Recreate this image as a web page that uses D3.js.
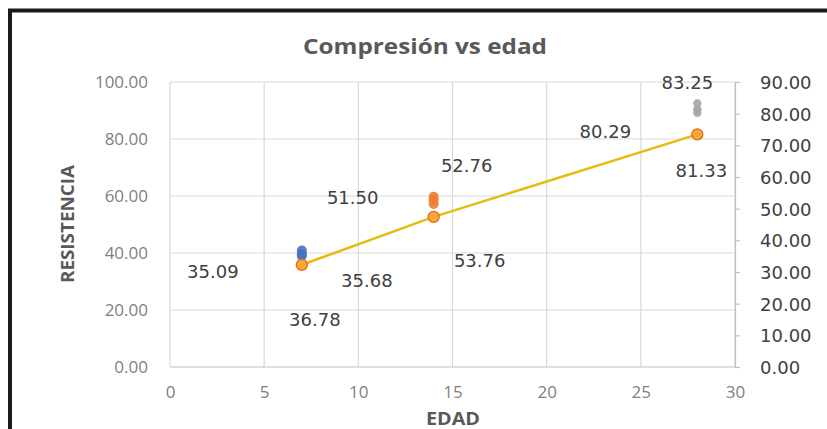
<!DOCTYPE html>
<html>
<head>
<meta charset="utf-8">
<script src="https://cdn.jsdelivr.net/npm/d3@7"></script>
<style>
  html, body { margin: 0; padding: 0; background: #fff; }
  svg { display: block; }
</style>
</head>
<body>
<svg id="chart" width="827" height="429"></svg>
<script>
// Compression strength per specimen (right axis) and age averages (left axis)
const ages = [7, 14, 28];
const serie7 = [35.09, 35.68, 36.78];
const serie14 = [51.50, 52.76, 53.76];
const serie28 = [80.29, 81.33, 83.25];
const seriesColors = ["#4472C4", "#ED7D31", "#A5A5A5"];
const xTicks = [0, 5, 10, 15, 20, 25, 30];
const leftTicks = [0, 20, 40, 60, 80, 100];
const rightTicks = [0, 10, 20, 30, 40, 50, 60, 70, 80, 90];

// Label offsets (px) from each specimen point
const labelOffsets = [
  [[-89, 16], [65, 27], [13, 69]],
  [[-81, -6], [33, -34], [46, 64]],
  [[-92, 19], [4, 61], [-10, -21]]
];

const groups = [serie7, serie14, serie28];
const averages = groups.map(g => d3.mean(g));

const svg = d3.select("#chart");
const plot = { left: 170, right: 735, top: 82, bottom: 367 };

const x = d3.scaleLinear().domain([0, 30]).range([plot.left, plot.right]);
const yL = d3.scaleLinear().domain([0, 100]).range([plot.bottom, plot.top]);
const yR = d3.scaleLinear().domain([0, 90]).range([plot.bottom, plot.top]);

// Chart frame
svg.append("rect")
  .attr("x", 10).attr("y", 10.5).attr("width", 900).attr("height", 500)
  .attr("fill", "none").attr("stroke", "#1a1a1a").attr("stroke-width", 4);

// Title
svg.append("text")
  .attr("x", 425).attr("y", 54)
  .attr("text-anchor", "middle")
  .attr("font-family", "Open Sans, sans-serif")
  .attr("font-weight", 700).attr("font-size", 22)
  .attr("fill", "#595959")
  .attr("textLength", 244).attr("lengthAdjust", "spacingAndGlyphs")
  .text("Compresión vs edad");

// Gridlines
const grid = svg.append("g");
grid.selectAll("line.v").data(xTicks).join("line")
  .attr("x1", d => x(d)).attr("x2", d => x(d))
  .attr("y1", plot.top).attr("y2", plot.bottom)
  .attr("stroke", "#d9d9d9").attr("stroke-width", 1.2);
grid.selectAll("line.h").data(leftTicks).join("line")
  .attr("x1", plot.left).attr("x2", plot.right)
  .attr("y1", d => yL(d)).attr("y2", d => yL(d))
  .attr("stroke", d => d === 0 ? "#bfbfbf" : "#d9d9d9").attr("stroke-width", 1.2);

// Left axis labels
const leftAxis = svg.append("g")
  .attr("transform", `translate(${plot.left - 22},0)`)
  .call(d3.axisLeft(yL).tickValues(leftTicks).tickSize(0).tickPadding(0).tickFormat(d3.format(".2f")));
leftAxis.select(".domain").remove();
leftAxis.selectAll("text")
  .attr("font-family", "Open Sans, sans-serif").attr("font-size", 17)
  .attr("fill", "#7f7f7f").attr("dy", "0.35em");

// Bottom axis labels
const bottomAxis = svg.append("g")
  .attr("transform", `translate(0,${plot.bottom + 19})`)
  .call(d3.axisBottom(x).tickValues(xTicks).tickSize(0).tickPadding(0));
bottomAxis.select(".domain").remove();
bottomAxis.selectAll("text")
  .attr("font-family", "Open Sans, sans-serif").attr("font-size", 17)
  .attr("fill", "#7f7f7f").attr("dy", "0.71em");

// Right axis
const rightAxis = svg.append("g")
  .attr("transform", `translate(${plot.right},0)`)
  .call(d3.axisRight(yR).tickValues(rightTicks).tickSize(5).tickPadding(20).tickFormat(d3.format(".2f")));
rightAxis.select(".domain").attr("stroke", "#bfbfbf").attr("stroke-width", 1.2);
rightAxis.selectAll(".tick line").attr("stroke", "#bfbfbf").attr("stroke-width", 1.2);
rightAxis.selectAll("text")
  .attr("font-family", "DejaVu Sans, sans-serif").attr("font-size", 18)
  .attr("fill", "#404040").attr("dy", "0.36em");

// Axis titles
svg.append("text")
  .attr("transform", "translate(74,224) rotate(-90)")
  .attr("text-anchor", "middle")
  .attr("font-family", "Open Sans, sans-serif").attr("font-weight", 700).attr("font-size", 17)
  .attr("fill", "#595959")
  .attr("textLength", 118).attr("lengthAdjust", "spacingAndGlyphs")
  .text("RESISTENCIA");
svg.append("text")
  .attr("x", 453).attr("y", 425)
  .attr("text-anchor", "middle")
  .attr("font-family", "Open Sans, sans-serif").attr("font-weight", 700).attr("font-size", 18)
  .attr("fill", "#595959")
  .attr("textLength", 54).attr("lengthAdjust", "spacingAndGlyphs")
  .text("EDAD");

// Trend line through the averages
const avgData = ages.map((a, i) => ({ age: a, value: averages[i] }));
svg.append("path")
  .datum(avgData)
  .attr("fill", "none").attr("stroke", "#E6BC12").attr("stroke-width", 2.6)
  .attr("d", d3.line().x(d => x(d.age)).y(d => yL(d.value)));

// Specimen points
groups.forEach((vals, gi) => {
  svg.append("g").selectAll("circle").data(vals).join("circle")
    .attr("cx", x(ages[gi])).attr("cy", d => yR(d))
    .attr("r", gi === 2 ? 4.2 : 5)
    .attr("fill", seriesColors[gi]).attr("fill-opacity", 0.9);
});

// Average markers
svg.append("g").selectAll("circle").data(avgData).join("circle")
  .attr("cx", d => x(d.age)).attr("cy", d => yL(d.value))
  .attr("r", 5.5)
  .attr("fill", "#F7A83A").attr("stroke", "#E46C0A").attr("stroke-width", 1.3);

// Value labels
groups.forEach((vals, gi) => {
  svg.append("g").selectAll("text").data(vals).join("text")
    .attr("x", (d, i) => x(ages[gi]) + labelOffsets[gi][i][0])
    .attr("y", (d, i) => yR(d) + labelOffsets[gi][i][1])
    .attr("dy", "0.36em")
    .attr("text-anchor", "middle")
    .attr("font-family", "DejaVu Sans, sans-serif").attr("font-size", 18)
    .attr("fill", "#404040")
    .text(d => d.toFixed(2));
});
</script>
</body>
</html>
